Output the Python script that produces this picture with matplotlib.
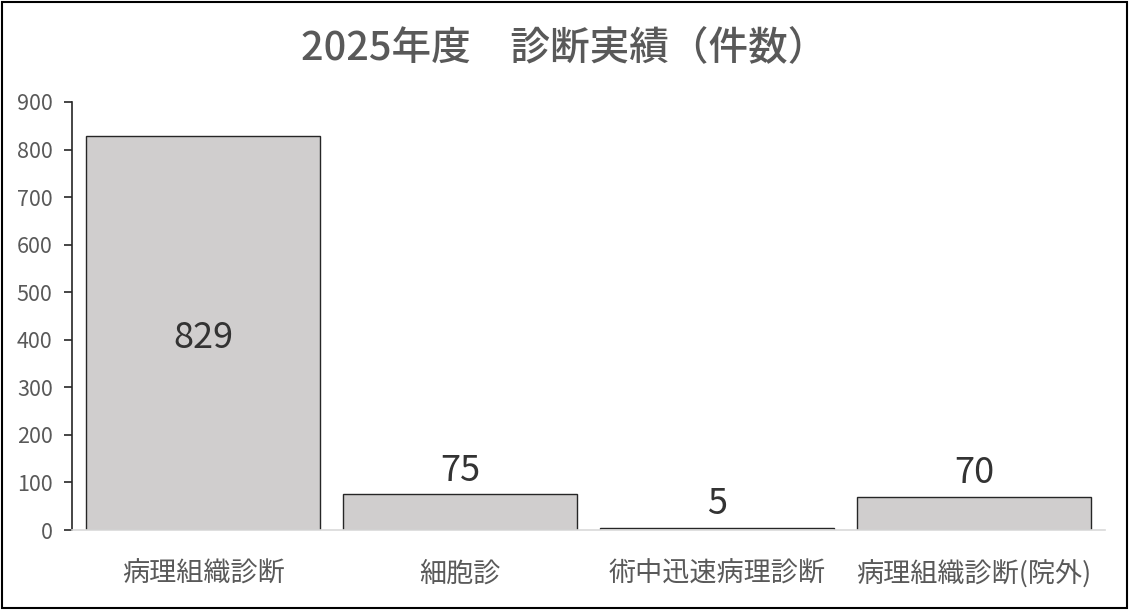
import matplotlib
matplotlib.use('Agg')
import matplotlib.pyplot as plt
from matplotlib.patches import Rectangle

plt.rcParams['font.family'] = ['Noto Sans CJK JP', 'DejaVu Sans']

# data
categories = ['病理組織診断', '細胞診', '術中迅速病理診断', '病理組織診断(院外)']
counts = [829, 75, 5, 70]
yticks = [0, 100, 200, 300, 400, 500, 600, 700, 800, 900]
title = '2025年度　診断実績（件数）'

text_col = '#595959'

fig = plt.figure(figsize=(11.29, 6.10), dpi=100)
ax = fig.add_axes([0.0638, 0.1311, 0.9150, 0.7017])

x = range(len(categories))
bars = ax.bar(x, counts, width=0.91, color='#d0cece', edgecolor='#262626', linewidth=1.0)

ax.set_xlim(-0.51, len(categories) - 0.49)
ax.set_ylim(0, 900)
ax.set_yticks(yticks)
ax.set_xticks(list(x))
ax.set_xticklabels(categories, fontsize=19.5, color=text_col)

for s in ['top', 'right']:
    ax.spines[s].set_visible(False)
ax.spines['left'].set_color('#262626')
ax.spines['left'].set_linewidth(1.2)
ax.spines['bottom'].set_color('#d9d9d9')
ax.spines['bottom'].set_linewidth(1.2)

ax.tick_params(axis='y', direction='out', length=6, width=1.2, color='#262626',
               labelsize=15.5, labelcolor=text_col, pad=8)
ax.tick_params(axis='x', length=0, pad=22)

# value labels: first one inside the bar, others above
for i, v in enumerate(counts):
    if v > 400:
        ax.annotate(str(v), (i, v / 2), xytext=(0, -4), textcoords='offset points',
                    ha='center', va='center', fontsize=26, color='#333333')
    else:
        ax.annotate(str(v), (i, v), xytext=(0, 17), textcoords='offset points',
                    ha='center', va='center', fontsize=26, color='#333333')

fig.text(0.5, 0.92, title, ha='center', va='center', fontsize=28.5,
         fontweight='medium', color=text_col)

# outer frame
fig.patches.append(Rectangle((0.002, 0.003), 0.996, 0.994, transform=fig.transFigure,
                             fill=False, edgecolor='black', linewidth=1.5))

fig.savefig('out.png', dpi=100)
